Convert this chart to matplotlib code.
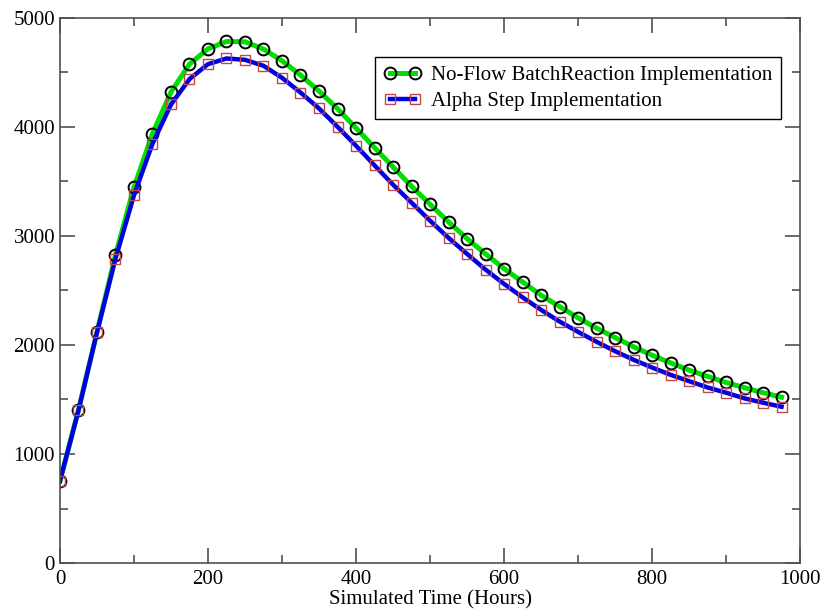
import numpy as np
import matplotlib.pyplot as plt

plt.rcParams['font.family'] = ['Liberation Serif', 'DejaVu Serif']

# czas symulacji (godziny) i wyniki obu implementacji
hours = np.arange(0, 1000, 25)
batch = [752, 1403, 2118, 2824, 3445, 3937, 4319, 4575, 4716, 4783,
         4780, 4713, 4606, 4475, 4328, 4166, 3989, 3809, 3632, 3455,
         3290, 3128, 2975, 2835, 2700, 2578, 2456, 2352, 2249, 2154,
         2068, 1983, 1906, 1836, 1769, 1711, 1656, 1608, 1562, 1521]
alpha = [752, 1400, 2115, 2790, 3372, 3845, 4205, 4438, 4575, 4627,
         4615, 4560, 4450, 4315, 4169, 4001, 3827, 3647, 3470, 3305,
         3140, 2982, 2835, 2691, 2560, 2437, 2322, 2215, 2120, 2029,
         1943, 1864, 1793, 1726, 1668, 1610, 1562, 1510, 1470, 1433]

fig = plt.figure(figsize=(8.26, 6.14), dpi=100)
ax = fig.add_axes([0.0726, 0.083, 0.896, 0.888])

ax.plot(hours, batch, '-', color='#00e000', lw=3.6, marker='o', ms=8.5,
        mfc='none', mec='black', mew=1.4,
        label='No-Flow BatchReaction Implementation')
ax.plot(hours, alpha, '-', color='#0000e0', lw=3.2, marker='s', ms=7.5,
        mfc='none', mec='#c04848', mew=1.0,
        label='Alpha Step Implementation')

ax.set_xlim(0, 1000)
ax.set_ylim(0, 5000)
ax.set_xticks(np.arange(0, 1001, 200))
ax.set_xticks(np.arange(100, 1000, 200), minor=True)
ax.set_yticks(np.arange(0, 5001, 1000))
ax.set_yticks(np.arange(500, 5000, 1000), minor=True)
ax.tick_params(which='both', direction='in', top=True, right=True,
               color='#505050', width=1.2, labelsize=15)
ax.tick_params(which='major', length=11)
ax.tick_params(which='minor', length=6)
ax.tick_params(axis='x', pad=5)
for s in ax.spines.values():
    s.set_color('#505050')
    s.set_linewidth(1.2)

ax.set_xlabel('Simulated Time (Hours)', fontsize=15, labelpad=1)

leg = ax.legend(loc='upper left', bbox_to_anchor=(0.426, 0.928),
                borderaxespad=0, fontsize=15, numpoints=2, handlelength=1.8,
                handletextpad=0.5, fancybox=False, framealpha=1,
                borderpad=0.4, labelspacing=0.3)
leg.get_frame().set_edgecolor('black')
leg.get_frame().set_linewidth(1.0)

plt.savefig('out.png', dpi=100)
